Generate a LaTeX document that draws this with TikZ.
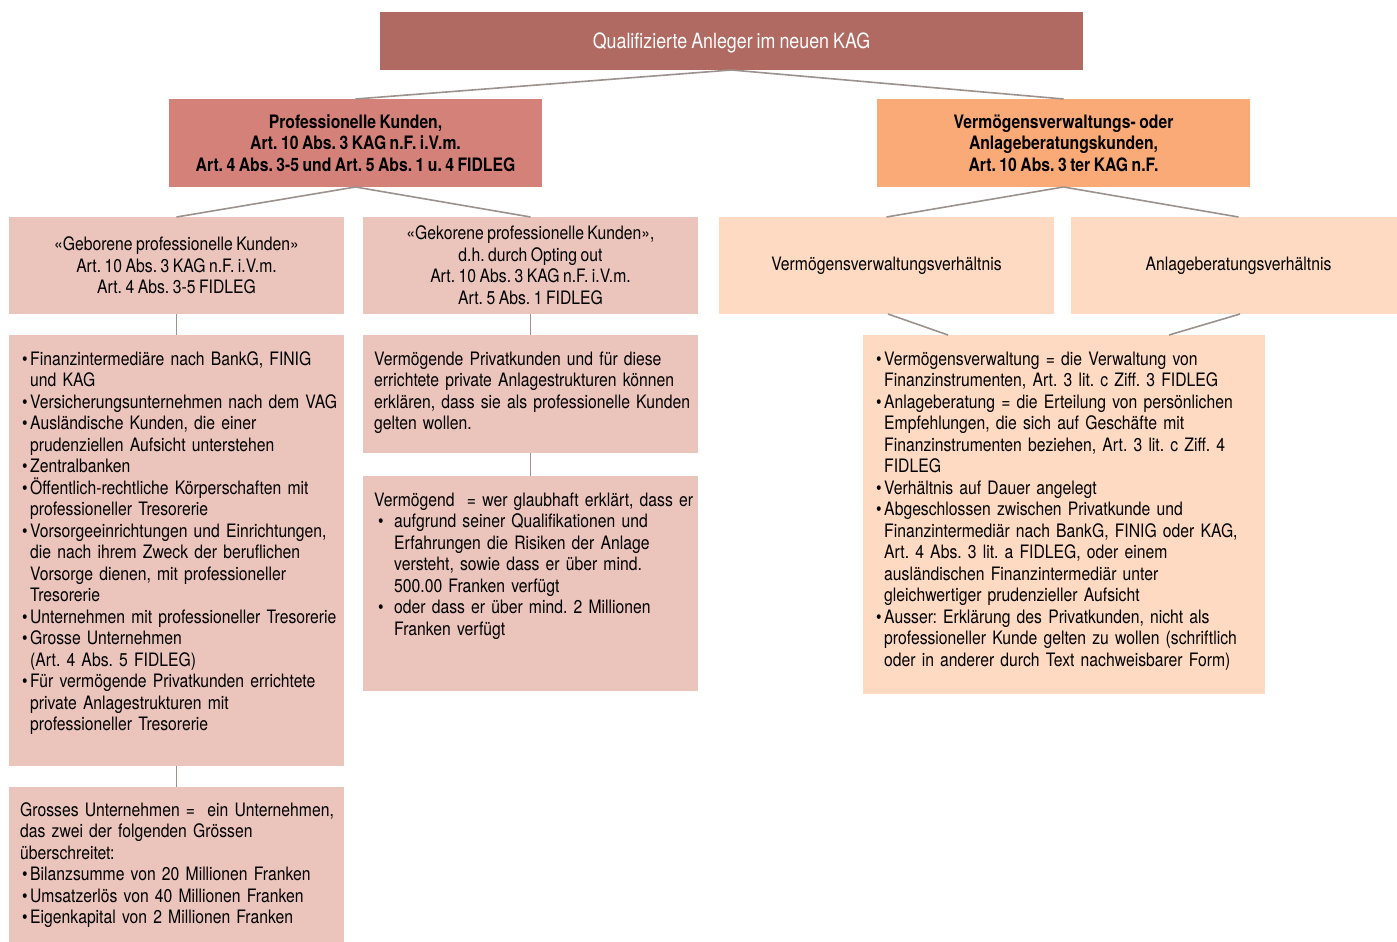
\documentclass[tikz,border=0pt]{standalone}
\usepackage{fontspec}
\setmainfont{TeX Gyre Heros}[FakeStretch=0.85,WordSpace=0.8]
\frenchspacing
\definecolor{titlec}{HTML}{B06A62}
\definecolor{profc}{HTML}{D48179}
\definecolor{vvc}{HTML}{F9AA77}
\definecolor{pinkc}{HTML}{EBC4BC}
\definecolor{peachc}{HTML}{FDDAC1}
\definecolor{linec}{HTML}{9B928D}
% first bullet (no paragraph break) and following bullets
\newcommand{\bfirst}[2]{\leftskip=#1\relax\noindent\hspace*{-#1}\makebox[#1][l]{\hspace*{#2}•}}
\newcommand{\bnext}[2]{\par\leftskip=#1\relax\noindent\hspace*{-#1}\makebox[#1][l]{\hspace*{#2}•}}
\newcommand{\bi}{\bnext{8pt}{0pt}}
\tikzset{
  boxshape/.style={inner sep=0pt, outer sep=0pt, draw=none},
  ctext/.style={inner sep=0pt, align=center, font=\fontsize{18.5}{21.5}\selectfont},
  ttext/.style={inner sep=0pt, align=center, font=\fontsize{21}{24}\selectfont},
  btext/.style={inner sep=0pt, align=center, font=\fontsize{18.5}{21.5}\selectfont\bfseries},
  ltext/.style={inner sep=0pt, anchor=north west, text width=420pt, align=left,
    font=\fontsize{18.5}{21.5}\selectfont},
  conn/.style={draw=linec, line width=1.6pt},
}
\begin{document}
\begin{tikzpicture}[x=1pt,y=-1pt]
\useasboundingbox (0,0) rectangle (1397,942);
% boxes
\node[boxshape, fill=titlec, minimum width=703pt, minimum height=58pt] (title) at (731.5,41) {};
\node[boxshape, fill=profc, minimum width=373pt, minimum height=88pt] (prof) at (355.5,143) {};
\node[boxshape, fill=vvc, minimum width=373pt, minimum height=88pt] (vv) at (1063.5,143) {};
\node[boxshape, fill=pinkc, minimum width=335pt, minimum height=97pt] (geb) at (176.5,265.5) {};
\node[boxshape, fill=pinkc, minimum width=335pt, minimum height=97pt] (gek) at (530.5,265.5) {};
\node[boxshape, fill=peachc, minimum width=335pt, minimum height=97pt] (vvv) at (886.5,265.5) {};
\node[boxshape, fill=peachc, minimum width=335pt, minimum height=97pt] (anl) at (1238.5,265.5) {};
\node[boxshape, fill=pinkc, minimum width=335pt, minimum height=431pt] (lst) at (176.5,550.5) {};
\node[boxshape, fill=pinkc, minimum width=335pt, minimum height=118pt] (gka) at (530.5,394) {};
\node[boxshape, fill=pinkc, minimum width=335pt, minimum height=215pt] (gkb) at (530.5,583.5) {};
\node[boxshape, fill=peachc, minimum width=402pt, minimum height=359pt] (big) at (1064,514.5) {};
\node[boxshape, fill=pinkc, minimum width=335pt, minimum height=158pt] (gross) at (176.5,866) {};
% connectors
\draw[conn] (title.south) -- (prof.north);
\draw[conn] (title.south) -- (vv.north);
\draw[conn] (prof.south) -- (geb.north);
\draw[conn] (prof.south) -- (gek.north);
\draw[conn] (vv.south) -- (vvv.north);
\draw[conn] (vv.south) -- (anl.north);
\draw[conn] (geb.south) -- (lst.north);
\draw[conn] (lst.south) -- (gross.north);
\draw[conn] (gek.south) -- (gka.north);
\draw[conn] (gka.south) -- (gkb.north);
\draw[conn] ([xshift=1.5pt]vvv.south) -- ([xshift=-116pt]big.north);
\draw[conn] ([xshift=1.5pt]anl.south) -- ([xshift=105pt]big.north);
% texts
\node[ttext, text=white] (tt) at ([yshift=-1.5pt]title.center) {Qualifizierte Anleger im neuen KAG};
\node[btext] (tp) at (prof.center) {Professionelle Kunden,\\Art. 10 Abs. 3 KAG n.F. i.V.m.\\Art. 4 Abs. 3-5 und Art. 5 Abs. 1 u. 4 FIDLEG};
\node[btext] (tv) at (vv.center) {Vermögensverwaltungs- oder\\Anlageberatungskunden,\\Art. 10 Abs. 3 ter KAG n.F.};
\node[ctext] (tg) at (geb.center) {«Geborene professionelle Kunden»\\Art. 10 Abs. 3 KAG n.F. i.V.m.\\Art. 4 Abs. 3-5 FIDLEG};
\node[ctext] (tk) at (gek.center) {«Gekorene professionelle Kunden»,\\d.h. durch Opting out\\Art. 10 Abs. 3 KAG n.F. i.V.m.\\Art. 5 Abs. 1 FIDLEG};
\node[ctext] (tvv) at (vvv.center) {Vermögensverwaltungsverhältnis};
\node[ctext] (ta) at (anl.center) {Anlageberatungsverhältnis};
\node[ltext] (tl) at ([xshift=13pt,yshift=-15pt]lst.north west) {%
\bfirst{8pt}{0pt}\strut Finanzintermediäre nach BankG, FINIG\\und KAG
\bi Versicherungsunternehmen nach dem VAG
\bi Ausländische Kunden, die einer\\prudenziellen Aufsicht unterstehen
\bi Zentralbanken
\bi Öffentlich-rechtliche Körperschaften mit\\professioneller Tresorerie
\bi Vorsorgeeinrichtungen und Einrichtungen,\\die nach ihrem Zweck der beruflichen\\Vorsorge dienen, mit professioneller\\Tresorerie
\bi Unternehmen mit professioneller Tresorerie
\bi Grosse Unternehmen\\(Art. 4 Abs. 5 FIDLEG)
\bi Für vermögende Privatkunden errichtete\\private Anlagestrukturen mit\\professioneller Tresorerie\par};
\node[ltext] (tka) at ([xshift=11pt,yshift=-15pt]gka.north west) {%
\strut Vermögende Privatkunden und für diese\\errichtete private Anlagestrukturen können\\erklären, dass sie als professionelle Kunden\\gelten wollen.\par};
\node[ltext] (tkb) at ([xshift=11pt,yshift=-15pt]gkb.north west) {%
\strut Vermögend\ \ = wer glaubhaft erklärt, dass er
\bnext{20pt}{4pt}aufgrund seiner Qualifikationen und\\Erfahrungen die Risiken der Anlage\\versteht, sowie dass er über mind.\\500.00 Franken verfügt
\bnext{20pt}{4pt}oder dass er über mind. 2 Millionen\\Franken verfügt\par};
\node[ltext] (tb) at ([xshift=13pt,yshift=-15pt]big.north west) {%
\bfirst{8pt}{0pt}\strut Vermögensverwaltung = die Verwaltung von\\Finanzinstrumenten, Art. 3 lit. c Ziff. 3 FIDLEG
\bi Anlageberatung = die Erteilung von persönlichen\\Empfehlungen, die sich auf Geschäfte mit\\Finanzinstrumenten beziehen, Art. 3 lit. c Ziff. 4\\FIDLEG
\bi Verhältnis auf Dauer angelegt
\bi Abgeschlossen zwischen Privatkunde und\\Finanzintermediär nach BankG, FINIG oder KAG,\\Art. 4 Abs. 3 lit. a FIDLEG, oder einem\\ausländischen Finanzintermediär unter\\gleichwertiger prudenzieller Aufsicht
\bi Ausser: Erklärung des Privatkunden, nicht als\\professioneller Kunde gelten zu wollen (schriftlich\\oder in anderer durch Text nachweisbarer Form)\par};
\node[ltext] (tgr) at ([xshift=11pt,yshift=-14pt]gross.north west) {%
\strut Grosses Unternehmen =\ \ ein Unternehmen,\\das zwei der folgenden Grössen\\überschreitet:
\bnext{10pt}{2pt}Bilanzsumme von 20 Millionen Franken
\bnext{10pt}{2pt}Umsatzerlös von 40 Millionen Franken
\bnext{10pt}{2pt}Eigenkapital von 2 Millionen Franken\par};
\end{tikzpicture}
\end{document}
